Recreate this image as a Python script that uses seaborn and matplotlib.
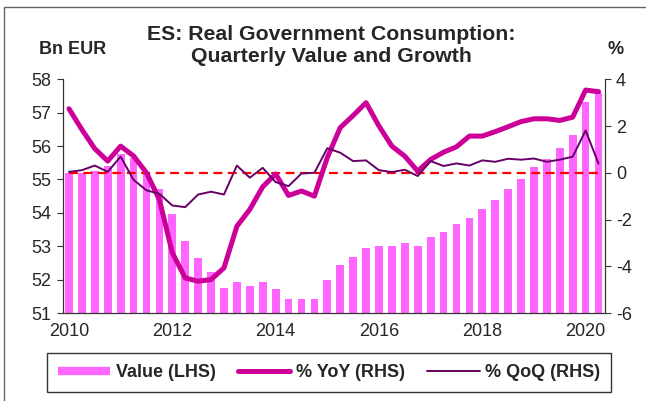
import numpy as np
import pandas as pd
import matplotlib
matplotlib.use("Agg")
import matplotlib.pyplot as plt
from matplotlib.lines import Line2D
from matplotlib.patches import Rectangle
import seaborn as sns

# quarterly data, 2010Q1 - 2020Q2
years = [2010 + i // 4 for i in range(42)]
quarters = [i % 4 + 1 for i in range(42)]
value = [55.19, 55.20, 55.25, 55.41, 55.76, 55.63, 55.19, 54.72, 53.96, 53.16,
         52.66, 52.24, 51.76, 51.94, 51.82, 51.94, 51.73, 51.43, 51.41, 51.43,
         51.99, 52.43, 52.68, 52.96, 53.01, 53.02, 53.09, 53.01, 53.27, 53.44,
         53.67, 53.86, 54.12, 54.38, 54.72, 55.02, 55.37, 55.62, 55.94, 56.33,
         57.33, 57.58]
yoy = [2.74, 1.85, 1.03, 0.50, 1.14, 0.72, 0.0, -1.15, -3.42, -4.50,
       -4.64, -4.57, -4.07, -2.29, -1.57, -0.60, -0.05, -0.97, -0.78, -1.00,
       0.65, 1.93, 2.45, 3.00, 2.00, 1.14, 0.71, 0.07, 0.57, 0.88,
       1.11, 1.57, 1.57, 1.76, 1.97, 2.19, 2.31, 2.31, 2.24, 2.38,
       3.54, 3.47]
qoq = [0.04, 0.11, 0.31, 0.04, 0.69, -0.30, -0.75, -0.90, -1.40, -1.47,
       -0.93, -0.81, -0.93, 0.31, -0.21, 0.21, -0.40, -0.57, -0.03, 0.0,
       1.05, 0.86, 0.50, 0.53, 0.11, 0.03, 0.13, -0.14, 0.50, 0.29,
       0.40, 0.31, 0.53, 0.47, 0.60, 0.56, 0.61, 0.47, 0.56, 0.69,
       1.81, 0.39]
year_labels = ["2010", "2012", "2014", "2016", "2018", "2020"]

df = pd.DataFrame({"year": years, "q": quarters, "value": value,
                   "yoy": yoy, "qoq": qoq})
df["idx"] = np.arange(len(df))

BAR = "#FF66FF"
YOY = "#CC0099"
QOQ = "#660066"

sns.set_style("white")
plt.rcParams["font.family"] = ["Liberation Sans", "DejaVu Sans"]
plt.rcParams["axes.unicode_minus"] = False

fig = plt.figure(figsize=(6.46, 4.01), dpi=100)
ax = fig.add_axes([62.5 / 646, 88 / 401, (605 - 62.5) / 646, (313 - 79.3) / 401])

sns.barplot(data=df, x="idx", y="value", ax=ax, color=BAR, saturation=1,
            width=0.6, edgecolor="none")
ax.set_ylim(51, 58)
ax.set_yticks(np.arange(51, 59, 1))
ax.set_xlim(-0.5, len(df) - 0.5)
ax.set_xlabel("")
ax.set_ylabel("")

ax2 = ax.twinx()
ax2.hlines(0, df["idx"].iloc[0], df["idx"].iloc[-1], colors="#FF0000",
           linestyles=(0, (4, 2.5)), linewidth=1.6, zorder=1)
sns.lineplot(data=df, x="idx", y="yoy", ax=ax2, color=YOY, linewidth=3.6,
             zorder=3)
sns.lineplot(data=df, x="idx", y="qoq", ax=ax2, color=QOQ, linewidth=1.4,
             zorder=4)
ax2.set_ylim(-6, 4)
ax2.set_yticks(np.arange(-6, 5, 2))
ax2.set_xlabel("")
ax2.set_ylabel("")

# x axis: year boundary ticks, labels under Q1 of even years
year_starts = df.index[df["q"] == 1].to_numpy() - 0.5
ax.set_xticks(year_starts)
ax.set_xticklabels([])
lab_pos = [df.index[(df["year"] == int(y)) & (df["q"] == 1)][0] for y in year_labels]
ax.set_xticks(lab_pos, minor=True)
ax.set_xticklabels(year_labels, minor=True)
ax.tick_params(axis="x", which="minor", length=0, pad=7, labelsize=13)
ax.tick_params(axis="x", which="major", length=4, width=0.8, direction="out",
               color="#333333")
ax.tick_params(axis="y", length=4, width=0.8, direction="out", color="#333333",
               labelsize=13, pad=4)
ax2.tick_params(axis="y", length=4, width=0.8, direction="out", color="#333333",
                labelsize=13, pad=4)

for a in (ax, ax2):
    for s in a.spines.values():
        s.set_color("#333333")
        s.set_linewidth(0.8)
    a.spines["top"].set_visible(False)

fig.text(331 / 646, 1 - 45 / 401,
         "ES: Real Government Consumption:\nQuarterly Value and Growth",
         ha="center", va="center", fontsize=15.3, fontweight="bold",
         linespacing=1.2)
fig.text(39 / 646, 1 - 50 / 401, "Bn EUR", ha="left", va="center",
         fontsize=13, fontweight="bold")
fig.text(616 / 646, 1 - 50 / 401, "%", ha="center", va="center",
         fontsize=13, fontweight="bold")

handles = [Line2D([], [], color=BAR, linewidth=6, solid_capstyle="butt"),
           Line2D([], [], color=YOY, linewidth=3.6, solid_capstyle="round"),
           Line2D([], [], color=QOQ, linewidth=1.4)]
labels = ["Value (LHS)", "% YoY (RHS)", "% QoQ (RHS)"]
leg = fig.legend(handles, labels, loc="lower left",
                 bbox_to_anchor=(47 / 646, 1 - 392 / 401, 564 / 646, 38 / 401),
                 mode="expand", ncol=3,
                 frameon=True, fancybox=False, edgecolor="black",
                 handlelength=2.9, handletextpad=0.3, columnspacing=1.0,
                 borderpad=0.6, borderaxespad=0,
                 prop={"weight": "bold", "size": 13})
leg.get_frame().set_linewidth(1.0)

fig.patches.append(Rectangle((4 / 646, -0.1), 1.2, 1.1 - 7 / 401,
                             transform=fig.transFigure, fill=False,
                             edgecolor="#666666", linewidth=1.0))

fig.savefig("out.png", dpi=100)
